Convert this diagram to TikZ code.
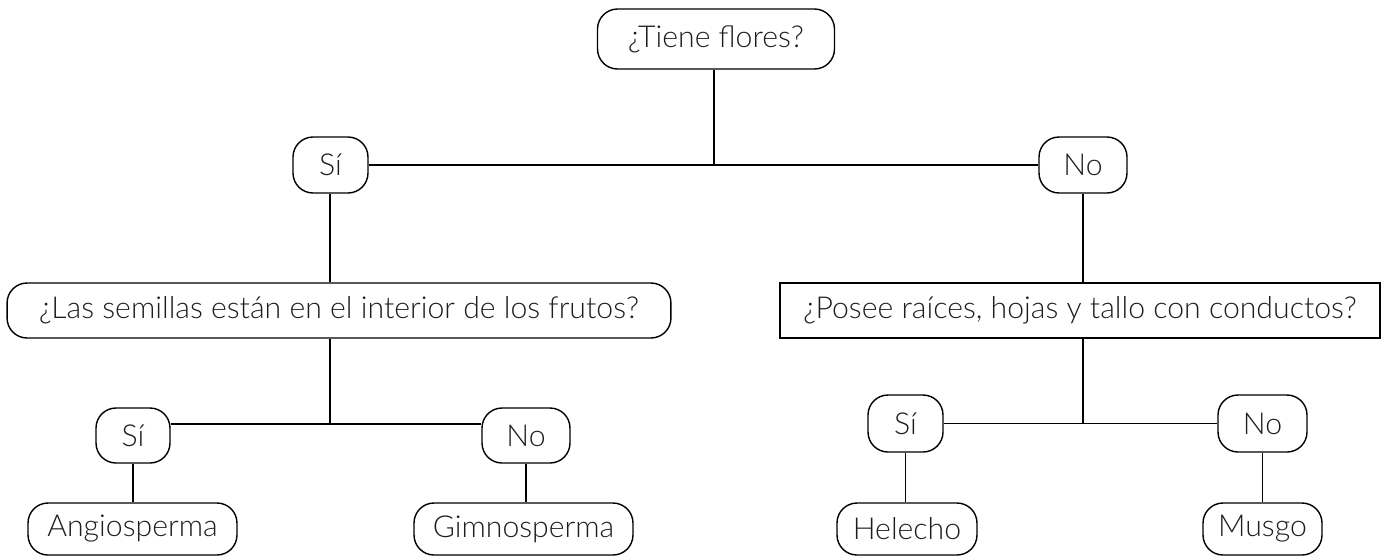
\documentclass[tikz,border=0pt]{standalone}
\usepackage{fontspec}
\setmainfont{Lato}[UprightFont=* Light]
\definecolor{txt}{RGB}{30,30,30}

\tikzset{
  pill/.style={draw,rounded corners=0.4cm,line width=0.8pt,text=txt,inner sep=0pt,
    font=\fontsize{17.2}{19}\selectfont},
  quest/.style={draw,line width=0.8pt,text=txt,inner sep=0pt,
    font=\fontsize{17.2}{19}\selectfont},
  link/.style={line width=0.8pt}
}

\begin{document}
\begin{tikzpicture}[x=0.02cm,y=-0.02cm]

    \useasboundingbox (0,0) rectangle (1385,556);

    \node[pill,minimum width=4.74cm,minimum height=1.2cm] (flores) at (716,39) {¿Tiene flores?};

    \node[pill,minimum width=1.5cm,minimum height=1.12cm] (si) at (330.5,165) {Sí};
    \node[pill,minimum width=1.76cm,minimum height=1.12cm] (no) at (1083,165) {No};

    \node[pill,minimum width=13.28cm,minimum height=1.1cm] (semillas) at (339,310.5) {¿Las semillas están en el interior de los frutos?};
    \node[quest,minimum width=12cm,minimum height=1.1cm] (raices) at (1080,310.5) {¿Posee raíces, hojas y tallo con conductos?};

    \node[pill,minimum width=1.48cm,minimum height=1.1cm] (sia) at (133,435.5) {Sí};
    \node[pill,minimum width=1.76cm,minimum height=1.1cm] (noa) at (526,435.5) {No};
    \node[pill,minimum width=1.5cm,minimum height=1.14cm] (sib) at (905.5,423.5) {Sí};
    \node[pill,minimum width=1.78cm,minimum height=1.14cm] (nob) at (1262.5,423.5) {No};

    \node[pill,minimum width=4.18cm,minimum height=1.04cm] (angio) at (132.5,529) {Angiosperma};
    \node[pill,minimum width=4.38cm,minimum height=1.04cm] (gimno) at (523.5,529) {Gimnosperma};
    \node[pill,minimum width=2.8cm,minimum height=1.04cm] (helecho) at (907,529) {Helecho};
    \node[pill,minimum width=2.38cm,minimum height=1.04cm] (musgo) at (1262.5,529) {Musgo};

    \coordinate (j0) at (714,165);
    \coordinate (ja) at (330,424);
    \coordinate (jb) at (1083,423.5);

    \draw[link] (flores.south -| j0) to (j0);
    \draw[link] (si.east) to (no.west);
    \draw[link] (si.south -| ja) to (semillas.north -| ja);
    \draw[link] (semillas.south -| ja) to (ja);
    \draw[link] (ja -| sia.east) to (ja -| noa.west);
    \draw[link] (no.south) to (raices.north -| no.south);
    \draw[link] (raices.south -| jb) to (jb);
    \draw[link] (sib.east) to (nob.west);

    \draw[link] (sia.south) to (angio.north -| sia.south);
    \draw[link] (noa.south) to (gimno.north -| noa.south);
    \draw[link] (sib.south) to (helecho.north -| sib.south);
    \draw[link] (nob.south) to (musgo.north -| nob.south);

\end{tikzpicture}
\end{document}
